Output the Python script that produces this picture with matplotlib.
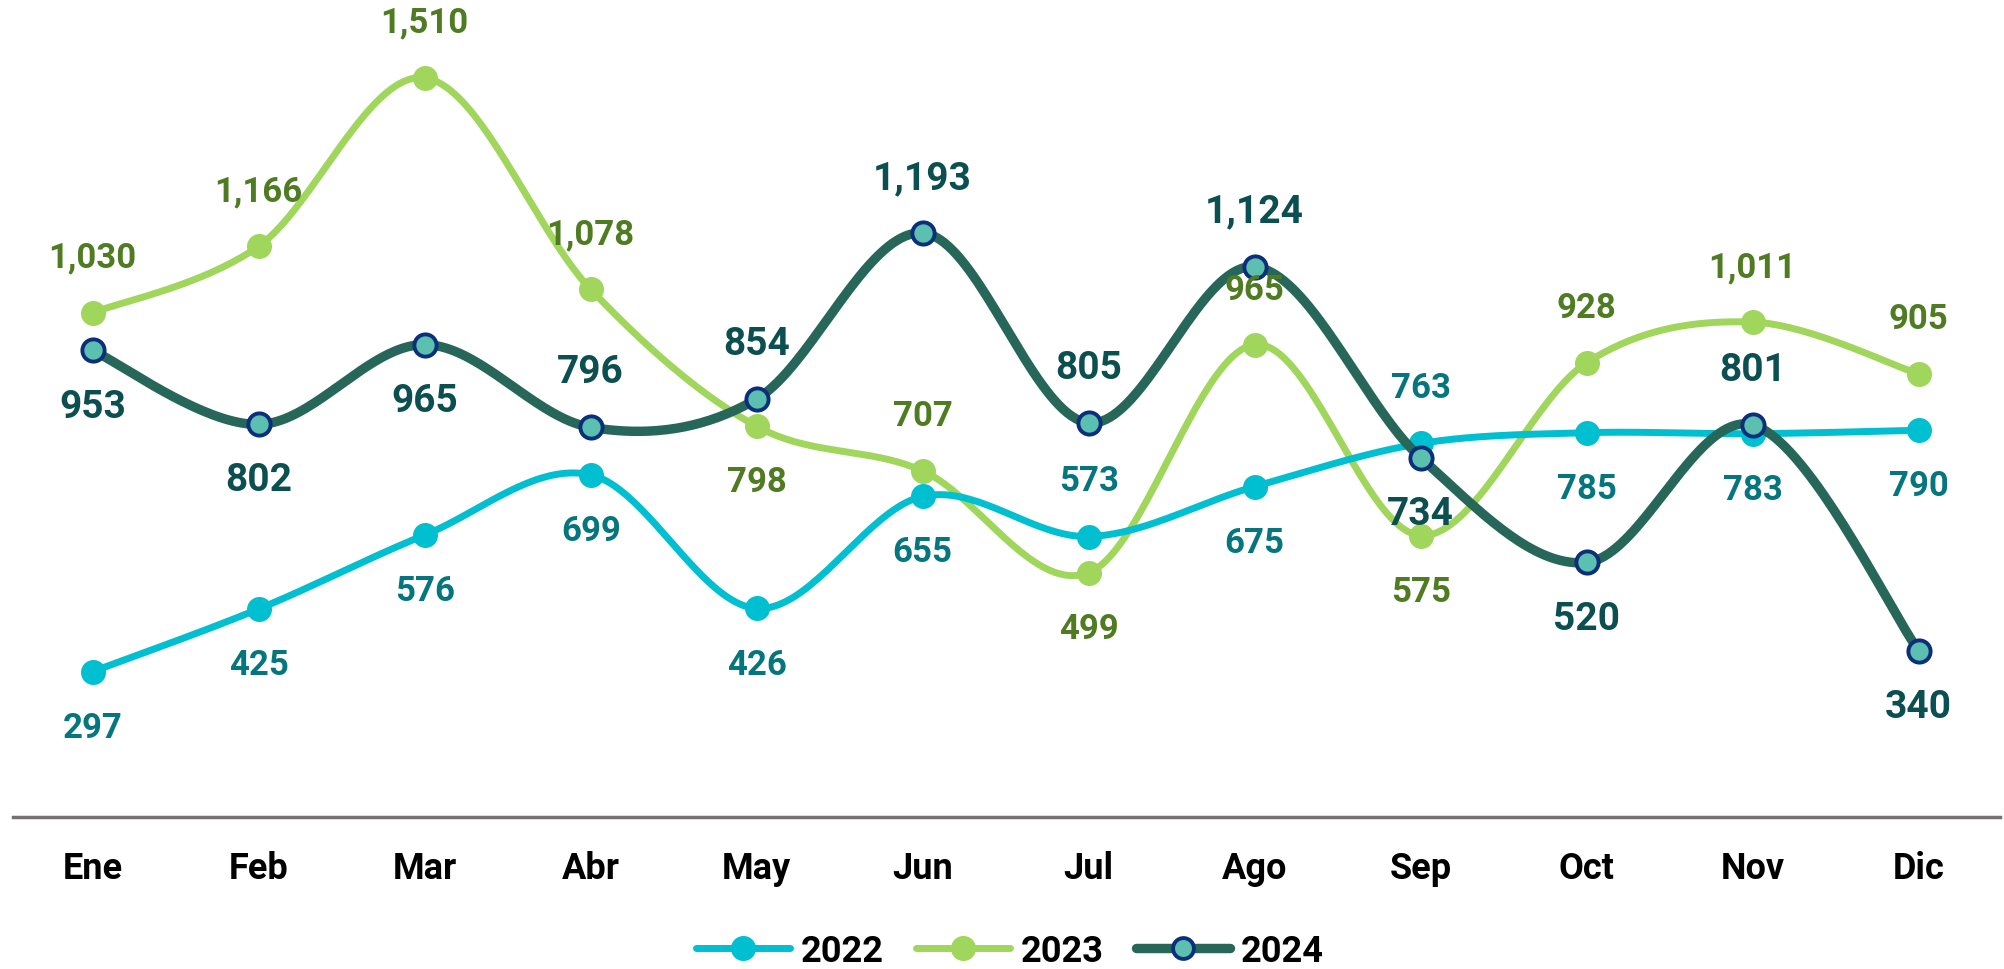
import numpy as np
import matplotlib
matplotlib.use("Agg")
import matplotlib.pyplot as plt
from matplotlib.lines import Line2D

months = ["Ene", "Feb", "Mar", "Abr", "May", "Jun", "Jul", "Ago", "Sep", "Oct", "Nov", "Dic"]
v2022 = [297, 425, 576, 699, 426, 655, 573, 675, 763, 785, 783, 790]
v2023 = [1030, 1166, 1510, 1078, 798, 707, 499, 965, 575, 928, 1011, 905]
v2024 = [953, 802, 965, 796, 854, 1193, 805, 1124, 734, 520, 801, 340]
# label side: +1 above, -1 below
pos2022 = [-1, -1, -1, -1, -1, -1, 1, -1, 1, -1, -1, -1]
pos2023 = [1, 1, 1, 1, -1, 1, -1, 1, -1, 1, 1, 1]
pos2024 = [-1, -1, -1, 1, 1, 1, 1, 1, -1, -1, 1, -1]

plt.rcParams['font.family'] = ["Roboto", "DejaVu Sans"]
plt.rcParams['font.weight'] = 'bold'


def smooth(xs, ys, n=40):
    # Catmull-Rom spline through the points (like Excel's smoothed line)
    p = np.column_stack([xs, ys]).astype(float)
    p = np.vstack([p[0], p, p[-1]])
    out = []
    t = np.linspace(0, 1, n)[:, None]
    for i in range(1, len(p) - 2):
        p0, p1, p2, p3 = p[i - 1], p[i], p[i + 1], p[i + 2]
        c1 = p1 + (p2 - p0) / 6
        c2 = p2 - (p3 - p1) / 6
        seg = ((1 - t) ** 3) * p1 + 3 * ((1 - t) ** 2) * t * c1 + 3 * (1 - t) * t ** 2 * c2 + t ** 3 * p2
        out.append(seg if i == 1 else seg[1:])
    out = np.vstack(out)
    return out[:, 0], out[:, 1]


fig = plt.figure(figsize=(20.04, 9.70), dpi=100)
ax = fig.add_axes([13 / 2004, 152 / 970, 1987 / 2004, 818 / 970])
x = np.arange(len(months))

series = [
    (v2023, pos2023, "#a0d65b", 5, "#a0d65b", "#a0d65b", 0, "#4f7c22", 25, 2),
    (v2022, pos2022, "#00bfd0", 5, "#00bfd0", "#00bfd0", 0, "#06767e", 25, 3),
    (v2024, pos2024, "#27675a", 6.8, "#5bc0b0", "#0b2f7a", 2.8, "#0c4f50", 28, 4),
]
for vals, pos, lc, lw, mfc, mec, mew, tc, fs, z in series:
    sx, sy = smooth(x, vals)
    ax.plot(sx, sy, color=lc, lw=lw, solid_capstyle='round', zorder=z)
    ax.plot(x, vals, 'o', ms=18 if mew == 0 else 16, mfc=mfc, mec=mec, mew=mew, zorder=z + 0.5)
    for xi, v, p in zip(x, vals, pos):
        ax.annotate(f"{v:,}", (xi, v), xytext=(0, 40 * p), textcoords='offset points',
                    ha='center', va='center', color=tc, fontsize=fs, fontweight='bold',
                    zorder=10, annotation_clip=False)

ax.set_xlim(-0.48, 11.49)
ax.set_ylim(0, 1671)
ax.set_xticks(x)
ax.set_xticklabels(months, fontsize=26, fontweight='bold', color='black')
ax.tick_params(axis='x', length=0, pad=24)
ax.set_yticks([])
for s in ['top', 'left', 'right']:
    ax.spines[s].set_visible(False)
ax.spines['bottom'].set_color('#767171')
ax.spines['bottom'].set_linewidth(2.5)
ax.patch.set_alpha(0)

handles = [
    Line2D([], [], color="#00bfd0", lw=5, marker='o', ms=17, mfc="#00bfd0", mec="#00bfd0", solid_capstyle='round'),
    Line2D([], [], color="#a0d65b", lw=5, marker='o', ms=17, mfc="#a0d65b", mec="#a0d65b", solid_capstyle='round'),
    Line2D([], [], color="#27675a", lw=6.8, marker='o', ms=15, mfc="#5bc0b0", mec="#0b2f7a", mew=2.8, solid_capstyle='round'),
]
fig.legend(handles, ["2022", "2023", "2024"], loc='center', bbox_to_anchor=(1010 / 2004, 1 - 952 / 970),
           ncol=3, frameon=False, handlelength=2.6, columnspacing=0.9, handletextpad=0.3,
           prop={'size': 26, 'weight': 'bold'})

fig.savefig("out.png", dpi=100)
